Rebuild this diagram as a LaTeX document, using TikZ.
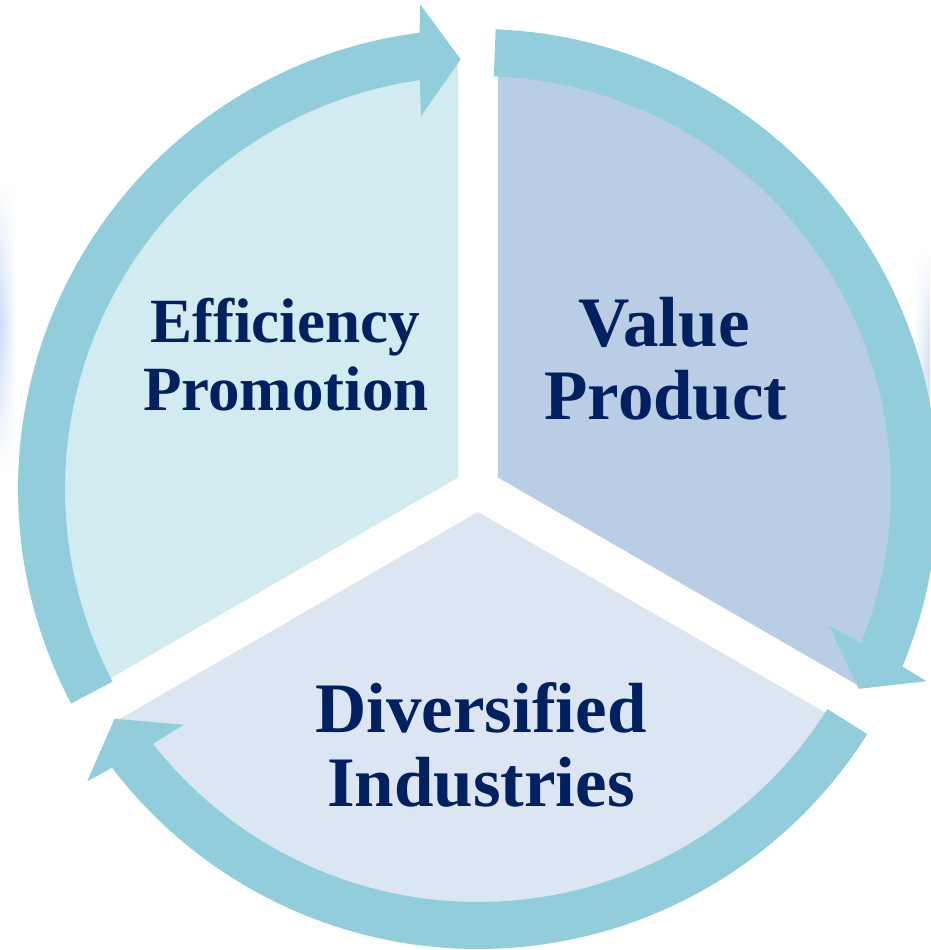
\documentclass[tikz,border=0pt]{standalone}
\usepackage{fontspec}
\setmainfont{Liberation Serif}[Ligatures={NoCommon}]
\usetikzlibrary{fadings}
\definecolor{ringc}{RGB}{146,205,220}
\definecolor{secA}{RGB}{210,235,240}
\definecolor{secB}{RGB}{185,205,229}
\definecolor{secC}{RGB}{220,230,242}
\definecolor{txtc}{RGB}{0,32,96}
\definecolor{glowc}{RGB}{205,220,245}
\tikzfading[name=glowfade, top color=transparent!100, bottom color=transparent!100, middle color=transparent!0]
\tikzset{
  ringarrow/.style={fill=ringc},
  label/.style={anchor=base, inner sep=0pt, text=txtc, font=\bfseries},
  bigfont/.style={font=\bfseries\fontsize{71}{75}\selectfont},
  smallfont/.style={font=\bfseries\fontsize{63}{68}\selectfont}
}
\begin{document}
\begin{tikzpicture}[x=1pt,y=1pt]
\fill[white] (0,0) rectangle (930,950);
\useasboundingbox (0,0) rectangle (930,950);
% faint edge glows
\shade[left color=glowc, right color=white, path fading=glowfade] (0,480) rectangle (16,767);
\shade[left color=white, right color=glowc, path fading=glowfade] (914,460) rectangle (930,700);
\begin{scope}[shift={(478,461)}]
  % sectors
  \foreach \b/\col in {150/secA, 30/secB, 270/secC} {
    \fill[\col] (\b:23) -- ++({\b+60}:415)
      arc[start angle=\b+60, end angle=\b-60, radius=415] -- cycle;
  }
  % circular arrows
  \foreach \A in {90,210,330} {
    \pgfmathsetmacro\T{\A-2.2}
    \pgfmathsetmacro\E{\A-120}
    \fill[ringarrow] (\T:460) arc[start angle=\T, end angle=\E+7.3, radius=460]
      -- ({\E+6.8}:488) -- ({\E+2.3}:430) -- ({\E+8.7}:377) -- ({\E+8.1}:413)
      arc[start angle=\E+8.1, end angle=\T, radius=413] -- cycle;
  }
\end{scope}
% texts
\node[label, smallfont] (eff) at (285,607) {Efficiency};
\node[label, smallfont] (pro) at (286,539) {Promotion};
\node[label, bigfont] (val) at (664,603) {Value};
\node[label, bigfont] (prd) at (666,530) {Product};
\node[label, bigfont] (div) at (481,217) {Diversified};
\node[label, bigfont] (ind) at (481,143) {Industries};
\end{tikzpicture}
\end{document}
